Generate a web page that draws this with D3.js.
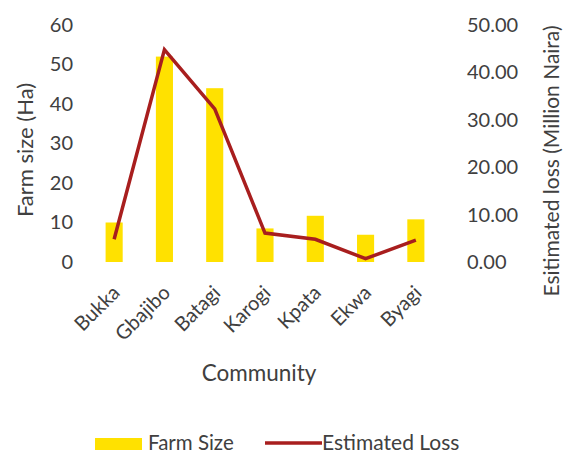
<!DOCTYPE html>
<html>
<head>
<meta charset="utf-8">
<script src="https://cdn.jsdelivr.net/npm/d3@7"></script>
<style>
  body { margin: 0; background: #fff; }
  svg { display: block; }
  text { font-family: Lato, "Open Sans", sans-serif; fill: #404040; }
</style>
</head>
<body>
<svg id="drawing_region"></svg>
<script>
var width = 566;
var height = 452;
var margin = {top: 25, right: 125, bottom: 190, left: 89};

// data
const communities = ['Bukka', 'Gbajibo', 'Batagi', 'Karogi', 'Kpata', 'Ekwa', 'Byagi'];
const farmSize = [10, 52, 44, 8.5, 11.7, 6.9, 10.8];
const estLoss = [4.8, 44.8, 32.3, 6.1, 4.8, 0.7, 4.6];
const leftTicks = [0, 10, 20, 30, 40, 50, 60];
const rightTicks = [0, 10, 20, 30, 40, 50];

const data = communities.map((c, i) => ({c: c, farm: farmSize[i], loss: estLoss[i]}));

var svg = d3.select('#drawing_region')
      .attr('width', width)
      .attr('height', height);

var chart = svg.append('g')
      .attr('transform', `translate(${margin.left}, ${margin.top})`);

const innerWidth = width - margin.left - margin.right;
const innerHeight = height - margin.top - margin.bottom;

const xscale = d3.scaleBand()
      .domain(communities)
      .range([0, innerWidth])
      .paddingInner(0.66)
      .paddingOuter(0.33);

const yleft = d3.scaleLinear()
      .domain([0, 60])
      .range([innerHeight, 0]);

const yright = d3.scaleLinear()
      .domain([0, 50])
      .range([innerHeight, 0]);

// bars
chart.selectAll('rect.bar')
      .data(data)
      .enter()
      .append('rect')
      .attr('class', 'bar')
      .attr('x', d => xscale(d.c))
      .attr('y', d => yleft(d.farm))
      .attr('width', xscale.bandwidth())
      .attr('height', d => innerHeight - yleft(d.farm))
      .attr('fill', '#FFE100');

// line
const line = d3.line()
      .x(d => xscale(d.c) + xscale.bandwidth() / 2)
      .y(d => yright(d.loss));

chart.append('path')
      .attr('d', line(data))
      .attr('stroke', '#A81E1E')
      .attr('stroke-width', 3.5)
      .attr('stroke-linejoin', 'miter')
      .attr('fill', 'none');

// axes
const yAxisL = d3.axisLeft(yleft).tickValues(leftTicks).tickSize(0).tickPadding(16);
const yAxisR = d3.axisRight(yright).tickValues(rightTicks).tickSize(0).tickPadding(26)
      .tickFormat(d3.format('.2f'));

const gl = chart.append('g').call(yAxisL);
const gr = chart.append('g').attr('transform', `translate(${innerWidth}, 0)`).call(yAxisR);
[gl, gr].forEach(g => {
      g.attr('font-family', null).attr('font-size', null);
      g.select('.domain').remove();
      g.selectAll('text').style('font-size', '20px').attr('fill', '#404040');
});

const xAxis = d3.axisBottom(xscale).tickSize(0).tickPadding(0);
const gx = chart.append('g')
      .attr('transform', `translate(0, ${innerHeight})`)
      .call(xAxis);
gx.attr('font-family', null).attr('font-size', null);
gx.select('.domain').remove();
gx.selectAll('text')
      .style('font-size', '20px')
      .attr('fill', '#404040')
      .attr('text-anchor', 'end')
      .attr('dy', 0)
      .attr('y', 0)
      .attr('transform', 'translate(7, 32) rotate(-45)');

// axis titles
svg.append('text')
      .attr('transform', 'translate(33, 150) rotate(-90)')
      .attr('text-anchor', 'middle')
      .style('font-size', '22px')
      .text('Farm size (Ha)');

svg.append('text')
      .attr('transform', 'translate(559, 161) rotate(-90)')
      .attr('text-anchor', 'middle')
      .style('font-size', '21px')
      .text('Esitimated loss (Million Naira)');

svg.append('text')
      .attr('x', 259)
      .attr('y', 381)
      .attr('text-anchor', 'middle')
      .style('font-size', '22.5px')
      .text('Community');

// legend
const legend = svg.append('g');
legend.append('rect')
      .attr('x', 95).attr('y', 438).attr('width', 47).attr('height', 12)
      .attr('fill', '#FFE100');
legend.append('text')
      .attr('x', 148).attr('y', 450)
      .style('font-size', '20.5px').attr('fill', '#595959')
      .text('Farm Size');
legend.append('line')
      .attr('x1', 265).attr('x2', 322).attr('y1', 443).attr('y2', 443)
      .attr('stroke', '#A81E1E').attr('stroke-width', 3.5);
legend.append('text')
      .attr('x', 322).attr('y', 450)
      .style('font-size', '21px').attr('fill', '#595959')
      .text('Estimated Loss');
</script>
</body>
</html>
